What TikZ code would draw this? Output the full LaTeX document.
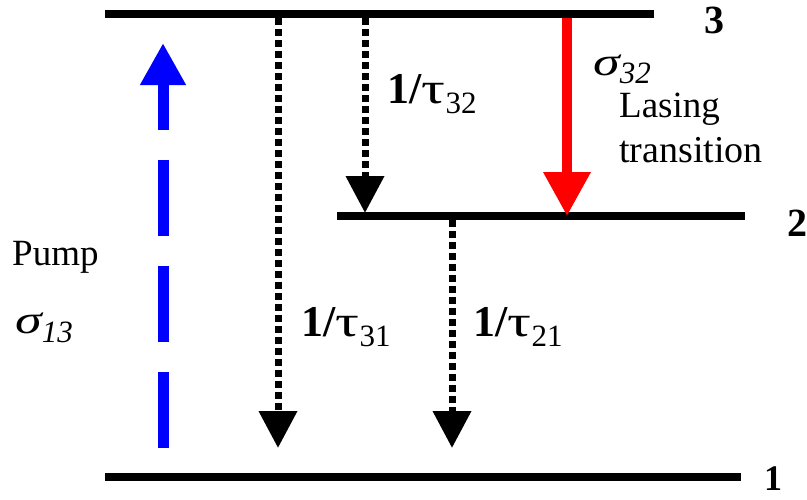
\documentclass[tikz,border=0pt]{standalone}
\usepackage{fontspec}
\setmainfont{Liberation Serif}
\usetikzlibrary{arrows.meta}
\newcommand{\lowsub}[3]{\raisebox{-#2pt}{\fontsize{#1}{#1}\selectfont #3}}
\newcommand{\wide}[1]{\scalebox{1.35}[1]{#1}}
\begin{document}
\begin{tikzpicture}[x=1pt,y=-1pt,
  levelline/.style={line width=8pt},
  dotarrow/.style={line width=7pt, dash pattern=on 7pt off 4pt, -{Triangle[length=37pt,width=37pt]}},
  lvlabel/.style={font=\fontsize{40}{44}\selectfont\bfseries, inner sep=0pt, anchor=base west},
  txt/.style={font=\fontsize{37}{40}\selectfont, inner sep=0pt, anchor=base west},
  sig/.style={font=\fontsize{40}{44}\selectfont\itshape, inner sep=0pt, anchor=base west},
  rate/.style={font=\fontsize{44}{48}\selectfont, inner sep=0pt, anchor=base west}]
\useasboundingbox (0,0) rectangle (807,499);
% levels
\coordinate (L3a) at (105,14); \coordinate (L3b) at (654,14);
\coordinate (L2a) at (337,216); \coordinate (L2b) at (745,216);
\coordinate (L1a) at (105,477); \coordinate (L1b) at (741,477);
\draw[levelline] (L3a) -- (L3b);
\draw[levelline] (L2a) -- (L2b);
\draw[levelline] (L1a) -- (L1b);
\node[lvlabel] (n3) at (704,33) {3};
\node[lvlabel] (n2) at (787,236) {2};
\node[lvlabel, font=\fontsize{36}{40}\selectfont\bfseries] (n1) at (764,490) {1};
% pump
\coordinate (p0) at (163,448); \coordinate (p1) at (163,43);
\draw[blue, line width=11pt, dash pattern=on 76pt off 30pt, -{Triangle[length=42pt,width=43pt]}] (p0) -- (p1);
% dotted decays
\coordinate (a31s) at (278,18); \coordinate (a31e) at (278,448);
\coordinate (a32s) at (365,18); \coordinate (a32e) at (365,213);
\coordinate (a21s) at (452,220); \coordinate (a21e) at (452,448);
\draw[dotarrow] (a31s) -- (a31e);
\draw[dotarrow] (a32s) -- (a32e);
\draw[dotarrow] (a21s) -- (a21e);
% lasing
\coordinate (rs) at (567,18); \coordinate (re) at (567,216);
\draw[red, line width=10pt, -{Triangle[length=44pt,width=45pt]}] (rs) -- (re);
% labels
\node[rate] (t32) at (387,103) {\textbf{1/}\wide{τ}\lowsub{31}{10}{32}};
\node[rate] (t31) at (301,336) {\textbf{1/}\wide{τ}\lowsub{31}{10}{31}};
\node[rate] (t21) at (473,336) {\textbf{1/}\wide{τ}\lowsub{31}{10}{21}};
\node[sig] (s32) at (593,75) {\wide{σ}\lowsub{31}{8}{32}};
\node[txt] (las) at (619,117) {Lasing};
\node[txt, font=\fontsize{38}{40}\selectfont] (tr) at (619,162) {transition};
\node[txt] (pump) at (12,265) {Pump};
\node[sig] (s13) at (15,333) {\wide{σ}\lowsub{31}{9}{13}};
\end{tikzpicture}
\end{document}
